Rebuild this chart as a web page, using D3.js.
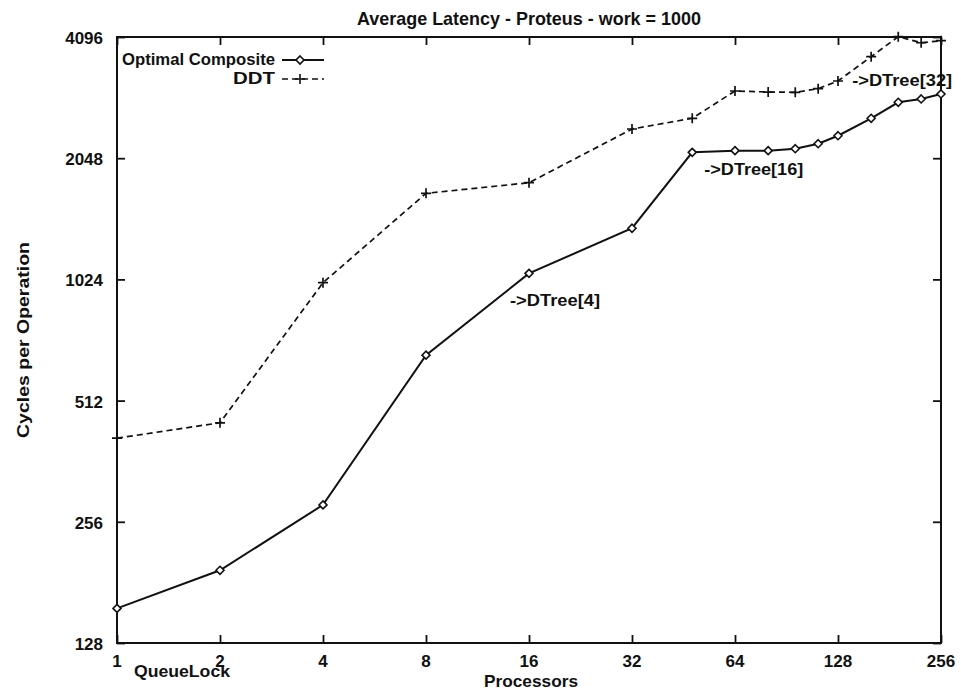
<!DOCTYPE html>
<html>
<head>
<meta charset="utf-8">
<script src="https://cdn.jsdelivr.net/npm/d3@7"></script>
<style>
  html, body { margin: 0; padding: 0; background: #fff; }
  svg { display: block; }
  text { font-family: "Liberation Sans", Arial, Helvetica, sans-serif; fill: #111; font-weight: bold; }
</style>
</head>
<body>
<svg id="chart" width="961" height="694"></svg>
<script>
// ---- data ----
const processors = [1, 2, 4, 8, 16, 32, 48, 64, 80, 96, 112, 128, 160, 192, 224, 256];
const optimalComposite = [156, 194, 282, 664, 1060, 1372, 2118, 2138, 2138, 2162, 2225, 2329, 2573, 2820, 2874, 2957];
const ddt = [413, 451, 1005, 1675, 1780, 2420, 2573, 3008, 2990, 2985, 3048, 3185, 3660, 4104, 3964, 4010];
const xTicks = [1, 2, 4, 8, 16, 32, 64, 128, 256];
const yTicks = [128, 256, 512, 1024, 2048, 4096];
const seriesNames = ["Optimal Composite", "DDT"];
const annotations = [
  { text: "->DTree[4]", x: 16, y: 1060 },
  { text: "->DTree[16]", x: 48, y: 2118 },
  { text: "->DTree[32]", x: 160, y: 3660 }
];
const titleText = "Average Latency - Proteus - work = 1000";
const xLabel = "Processors";
const yLabel = "Cycles per Operation";
const extraLabel = "QueueLock";

// ---- layout ----
const svg = d3.select("#chart");
const L = 117, R = 941, T = 37, B = 643;
const x = d3.scaleLog().base(2).domain([1, 256]).range([L, R]);
const y = d3.scaleLog().base(2).domain([128, 4096]).range([B, T]);

function fitText(sel, w) {
  sel.attr("textLength", w).attr("lengthAdjust", "spacingAndGlyphs");
}

// border
svg.append("rect").attr("x", L).attr("y", T).attr("width", R - L).attr("height", B - T)
  .attr("fill", "none").attr("stroke", "#111").attr("stroke-width", 2);

// axes (ticks inward)
const tickLen = 8;
const xb = svg.append("g").attr("transform", `translate(0,${B})`)
  .call(d3.axisBottom(x).tickValues(xTicks).tickSize(-tickLen).tickFormat(""));
const xt = svg.append("g").attr("transform", `translate(0,${T})`)
  .call(d3.axisTop(x).tickValues(xTicks).tickSize(-tickLen).tickFormat(""));
const yl = svg.append("g").attr("transform", `translate(${L},0)`)
  .call(d3.axisLeft(y).tickValues(yTicks).tickSize(-tickLen).tickFormat(""));
const yr = svg.append("g").attr("transform", `translate(${R},0)`)
  .call(d3.axisRight(y).tickValues(yTicks).tickSize(-tickLen).tickFormat(""));
[xb, xt, yl, yr].forEach(g => {
  g.select(".domain").remove();
  g.selectAll("line").attr("stroke", "#111").attr("stroke-width", 1.8);
});

// tick labels
svg.append("g").selectAll("text").data(xTicks).join("text")
  .attr("x", d => x(d)).attr("y", 667)
  .attr("text-anchor", "middle").attr("font-size", 17)
  .text(d => d);
svg.append("g").selectAll("text").data(yTicks).join("text")
  .attr("x", 103).attr("y", d => y(d) + 7)
  .attr("text-anchor", "end").attr("font-size", 17)
  .text(d => d);

// titles
svg.append("text").attr("x", 529).attr("y", 25).attr("text-anchor", "middle")
  .attr("font-size", 19).text(titleText).call(fitText, 344);
svg.append("text").attr("x", 531).attr("y", 687).attr("text-anchor", "middle")
  .attr("font-size", 17).text(xLabel).call(fitText, 94);
svg.append("text").attr("transform", "translate(29,340) rotate(-90)")
  .attr("text-anchor", "middle").attr("font-size", 17).text(yLabel).call(fitText, 196);
svg.append("text").attr("x", 134).attr("y", 677).attr("font-size", 17)
  .text(extraLabel).call(fitText, 96);

// lines
const line = d3.line().x(d => x(d[0])).y(d => y(d[1]));
const optData = processors.map((p, i) => [p, optimalComposite[i]]);
const ddtData = processors.map((p, i) => [p, ddt[i]]);

svg.append("path").datum(ddtData).attr("d", line).attr("fill", "none")
  .attr("stroke", "#111").attr("stroke-width", 1.7).attr("stroke-dasharray", "6,4");
svg.append("path").datum(optData).attr("d", line).attr("fill", "none")
  .attr("stroke", "#111").attr("stroke-width", 2);

// markers
const diamond = (cx, cy, s) => `M${cx},${cy - s}L${cx + s},${cy}L${cx},${cy + s}L${cx - s},${cy}Z`;
const plus = (cx, cy, s) => `M${cx - s},${cy}H${cx + s}M${cx},${cy - s}V${cy + s}`;
svg.append("g").selectAll("path").data(ddtData).join("path")
  .attr("d", d => plus(x(d[0]), y(d[1]), 5)).attr("stroke", "#111").attr("stroke-width", 1.7).attr("fill", "none");
svg.append("g").selectAll("path").data(optData).join("path")
  .attr("d", d => diamond(x(d[0]), y(d[1]), 4)).attr("stroke", "#111").attr("stroke-width", 1.6).attr("fill", "#fff");

// annotations
const annOffsets = [[-19, 33], [12, 23], [-19, 29]];
svg.append("g").selectAll("text").data(annotations).join("text")
  .attr("x", (d, i) => x(d.x) + annOffsets[i][0])
  .attr("y", (d, i) => y(d.y) + annOffsets[i][1])
  .attr("font-size", 17).text(d => d.text)
  .each(function(d, i) { d3.select(this).call(fitText, [90, 99, 100][i]); });

// legend
const lg = svg.append("g");
const legendRows = [
  { name: seriesNames[0], yy: 60, dash: null, mk: "d", w: 153 },
  { name: seriesNames[1], yy: 79, dash: "6,4", mk: "p", w: 42 }
];
legendRows.forEach(r => {
  lg.append("text").attr("x", 275).attr("y", r.yy + 5).attr("text-anchor", "end")
    .attr("font-size", 17).text(r.name).call(fitText, r.w);
  lg.append("line").attr("x1", 282).attr("x2", 324).attr("y1", r.yy).attr("y2", r.yy)
    .attr("stroke", "#111").attr("stroke-width", r.dash ? 1.7 : 2)
    .attr("stroke-dasharray", r.dash);
  lg.append("path").attr("d", r.mk === "d" ? diamond(300, r.yy, 4) : plus(300, r.yy, 5))
    .attr("stroke", "#111").attr("stroke-width", 1.6).attr("fill", r.mk === "d" ? "#fff" : "none");
});
</script>
</body>
</html>
